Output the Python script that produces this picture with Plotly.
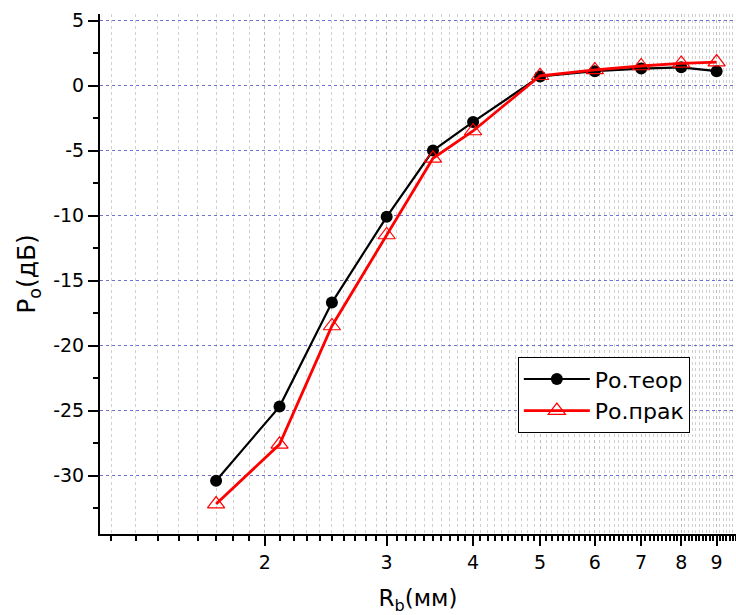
import numpy as np
import plotly.graph_objects as go

r_b = [1.7, 2.1, 2.5, 3.0, 3.5, 4.0, 5.0, 6.0, 7.0, 8.0, 9.0]
p_teor = [-30.4, -24.7, -16.7, -10.1, -5.0, -2.8, 0.7, 1.1, 1.3, 1.4, 1.1]
p_prak = [-32.2, -27.6, -18.5, -11.5, -5.6, -3.5, 0.75, 1.2, 1.5, 1.7, 1.8]
x_major = [2, 3, 4, 5, 6, 7, 8, 9]
y_major = [5, 0, -5, -10, -15, -20, -25, -30]
y_minor = [2.5, -2.5, -7.5, -12.5, -17.5, -22.5, -27.5, -32.5]

x_minor = [round(v, 1) for v in np.arange(1.2, 9.65, 0.1) if round(v, 1) not in x_major]

FONT = "DejaVu Sans, Liberation Sans, Arial"

fig = go.Figure()
fig.add_trace(go.Scatter(
    x=r_b, y=p_teor, name="Ро.теор", mode="lines+markers",
    line=dict(color="black", width=2.2),
    marker=dict(symbol="circle", size=12, color="black"),
))
fig.add_trace(go.Scatter(
    x=r_b, y=p_prak, name="Ро.прак", mode="lines+markers",
    line=dict(color="red", width=2.8),
    marker=dict(symbol="triangle-up-open", size=15, color="red", line=dict(width=1.2)),
))

fig.update_layout(
    width=736, height=615,
    margin=dict(l=100, r=0, t=14, b=81),
    paper_bgcolor="white", plot_bgcolor="white",
    font=dict(family=FONT, size=19, color="black"),
    showlegend=True,
    legend=dict(
        x=0.657, y=0.34, xanchor="left", yanchor="top",
        bordercolor="black", borderwidth=1, bgcolor="white",
        font=dict(size=22, color="black"),
        itemwidth=66, tracegroupgap=2,
    ),
    xaxis=dict(
        type="log", range=[np.log10(1.155), np.log10(9.6)],
        automargin=False,
        tickmode="array", tickvals=x_major, ticktext=[str(v) for v in x_major],
        ticks="outside", ticklen=10, tickwidth=2, tickcolor="black",
        showline=True, linecolor="black", linewidth=2,
        showgrid=True, gridcolor="#bcbcbc", griddash="dot", gridwidth=1,
        zeroline=False,
        minor=dict(tickmode="array", tickvals=x_minor, ticks="outside", ticklen=5,
                   tickwidth=1.5, tickcolor="black",
                   showgrid=True, gridcolor="#d0d0d0", griddash="dot", gridwidth=1),
        title=dict(text="R<sub>b</sub>(мм)", font=dict(size=23), standoff=18),
        tickfont=dict(size=19),
    ),
    yaxis=dict(
        range=[-34.5, 5.5],
        automargin=False,
        tickmode="array", tickvals=y_major, ticktext=[str(v) for v in y_major],
        ticks="outside", ticklen=10, tickwidth=2, tickcolor="black",
        showline=True, linecolor="black", linewidth=2,
        showgrid=True, gridcolor="#7070d0", griddash="dot", gridwidth=1,
        zeroline=False,
        minor=dict(tickmode="array", tickvals=y_minor,
                   ticks="outside", ticklen=5, tickwidth=2, tickcolor="black", showgrid=False),
        title=dict(text="P<sub>o</sub>(дБ)", font=dict(size=25), standoff=10),
        tickfont=dict(size=19),
    ),
)

fig.write_html("out.html", config={"displayModeBar": False},
               post_script="document.body.style.margin='0';document.body.style.padding='0';")
